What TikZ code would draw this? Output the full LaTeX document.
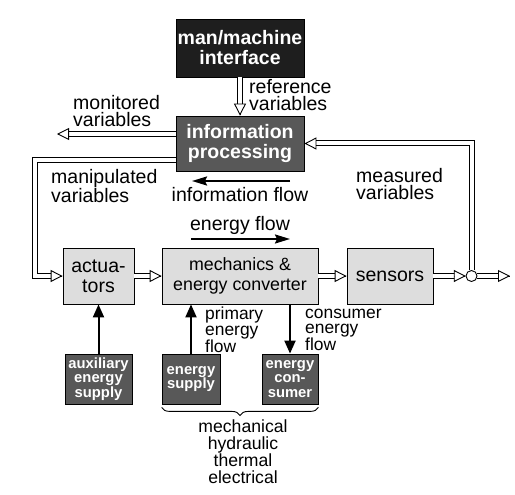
\documentclass[tikz,border=0pt]{standalone}
\usepackage{fontspec}
\setmainfont{Liberation Sans}
\usetikzlibrary{arrows.meta,decorations.pathreplacing,calc}
\definecolor{lightbox}{HTML}{DDDDDD}
\definecolor{darkbox}{HTML}{585858}
\definecolor{blackbox}{HTML}{1E1E1E}
\tikzset{
  lbl/.style={font=\fontsize{19.5bp}{17.5bp}\selectfont, inner sep=0, align=left},
  slbl/.style={font=\fontsize{17.4bp}{15.5bp}\selectfont, inner sep=0, align=left},
  lbox/.style={draw, fill=lightbox, line width=0.8bp, inner sep=0, align=center, font=\fontsize{19.5bp}{20bp}\selectfont},
  bigdark/.style={draw=black, text=white, line width=0.8bp, inner sep=0, align=center, font=\fontsize{19.5bp}{20bp}\selectfont\bfseries},
  dbox/.style={draw=black, fill=darkbox, text=white, line width=0.8bp, inner sep=0, align=center, font=\fontsize{14.8bp}{14.7bp}\selectfont\bfseries},
  dshaft/.style={draw=white, line width=4bp, line join=miter, shorten >=11bp, preaction={draw=black, line width=6bp, line join=miter, shorten >=11bp}},
  dtip/.style={line width=0.9bp, -{Triangle[open, fill=white, length=12bp, width=12bp]}},
  sarr/.style={line width=2bp, -{Stealth[length=15bp,width=9bp,inset=2bp]}},
  varr/.style={line width=2bp, -{Triangle[length=13bp,width=11bp]}},
}
\begin{document}
\begin{tikzpicture}[x=1bp,y=-1bp]
\useasboundingbox (0,0) rectangle (515,495);
% boxes
\node[bigdark, fill=blackbox, minimum width=128bp, minimum height=58bp] (mmi) at (240,48) {man/machine\\interface};
\node[bigdark, fill=darkbox, minimum width=128bp, minimum height=55bp] (ip) at (240,143.5) {information\\processing};
\node[lbox, minimum width=71bp, minimum height=56bp] (act) at (98.5,276) {actua-\\tors};
\node[lbox, minimum width=156bp, minimum height=56bp, font=\fontsize{17.8bp}{20bp}\selectfont] (mech) at (240,276) {mechanics \&\\energy converter};
\node[lbox, minimum width=86bp, minimum height=56bp] (sens) at (390,276) {sensors};
\node[dbox, minimum width=67bp, minimum height=50bp] (aux) at (98.5,379) {auxiliary\\energy\\supply};
\node[dbox, minimum width=58bp, minimum height=50bp] (sup) at (191,379) {energy\\supply};
\node[dbox, minimum width=56bp, minimum height=50bp] (con) at (290,379) {energy\\con-\\sumer};
\coordinate (jc) at (471.5,276);
\coordinate (mon) at (57,134);
\coordinate (out) at (510,276);
\coordinate (mcorner) at (35,160.5);
% labels
\node[lbl, anchor=west] (reflbl) at (249,95) {reference\\variables};
\node[lbl, anchor=west] (monlbl) at (73,111) {monitored\\variables};
\node[lbl, anchor=west] (manlbl) at (51,186) {manipulated\\variables};
\node[lbl, anchor=west] (measlbl) at (356,184) {measured\\variables};
\node[lbl] (iflbl) at (240,195) {information flow};
\node[lbl] (eflbl) at (240,225) {energy flow};
\node[slbl, anchor=west] (pflbl) at (205,330) {primary\\energy\\flow};
\node[slbl, anchor=west] (cflbl) at (305,330) {consumer\\energy\\flow};
\node[slbl, align=center, font=\fontsize{17.6bp}{17bp}\selectfont] (kinds) at (243,452) {mechanical\\hydraulic\\thermal\\electrical};
% flow arrows
\coordinate (if1) at (290,181);
\coordinate (if2) at (192,181);
\coordinate (ef1) at (191,239);
\coordinate (ef2) at (290,239);
\draw[sarr] (if1) -- (if2);
\draw[sarr] (ef1) -- (ef2);
% junction
\node[circle, minimum size=11bp, inner sep=0] (j) at (jc) {};
% double connectors: shafts
\draw[dshaft] (mmi.south) -- (ip.north);
\draw[dshaft] (ip.west |- mon) -- (mon);
\draw[dshaft] (ip.west |- mcorner) -- (mcorner) |- (act.west);
\draw[dshaft] (act.east) -- (mech.west);
\draw[dshaft] (mech.east) -- (sens.west);
\draw[dshaft] (sens.east) -- (j.west);
\draw[dshaft] (j.east) -- (out);
\draw[dshaft] (j.north) |- (ip.east);
% double connectors: heads
\draw[dtip] ([yshift=0.5bp]ip.north) -- (ip.north);
\draw[dtip] ([xshift=0.5bp]mon) -- (mon);
\draw[dtip] ([xshift=-0.5bp]act.west) -- (act.west);
\draw[dtip] ([xshift=-0.5bp]mech.west) -- (mech.west);
\draw[dtip] ([xshift=-0.5bp]sens.west) -- (sens.west);
\draw[dtip] ([xshift=-0.5bp]j.west) -- (j.west);
\draw[dtip] ([xshift=-0.5bp]out) -- (out);
\draw[dtip] ([xshift=0.5bp]ip.east) -- (ip.east);
\draw[line width=0.9bp, fill=white] (j) circle[radius=5.5bp];
% energy arrows
\draw[varr] (aux.north) -- (act.south);
\draw[varr] (sup.north) -- (sup.north |- mech.south);
\draw[varr] (con.north |- mech.south) -- (con.north);
% brace
\draw[line width=0.9bp, decorate, decoration={brace, mirror, amplitude=8bp}] ([yshift=-3bp]sup.south west) -- ([yshift=-3bp]con.south east);
\end{tikzpicture}
\end{document}
